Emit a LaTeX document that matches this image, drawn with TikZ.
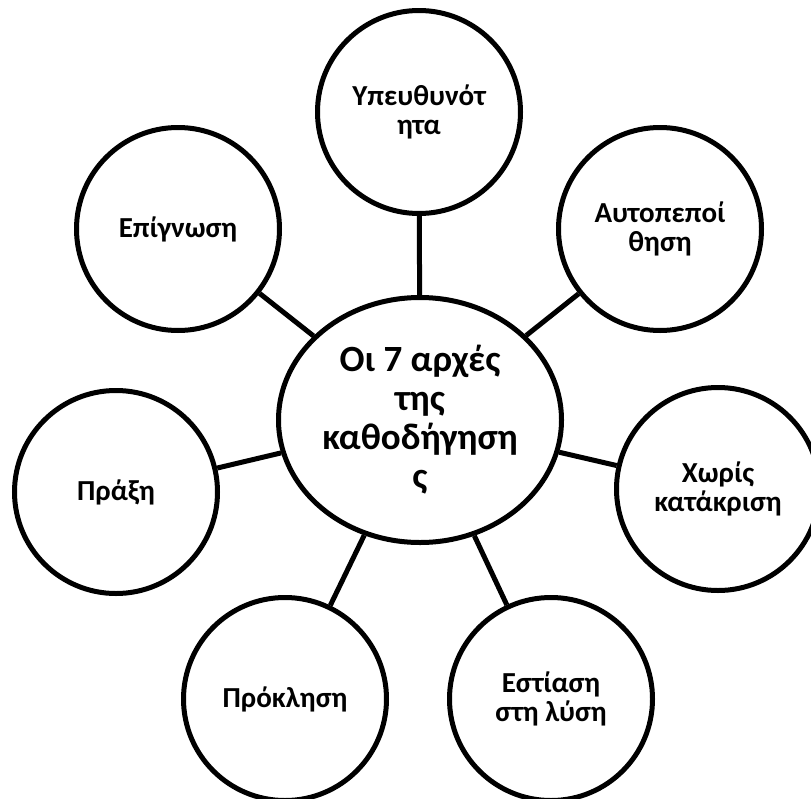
\documentclass[tikz,border=0pt]{standalone}
\usepackage{fontspec}
\setmainfont{Carlito}[BoldFont={Carlito Bold}]
\usetikzlibrary{shapes.geometric}
\begin{document}
\begin{tikzpicture}[x=1pt,y=-1pt,
  outer/.style={circle,draw,line width=5pt,minimum size=203pt,inner sep=0pt,align=center,font=\bfseries\fontsize{29}{29.5}\selectfont},
  hub/.style={ellipse,draw,line width=5pt,minimum width=283pt,minimum height=245pt,inner sep=0pt,align=center,font=\bfseries\fontsize{37}{39}\selectfont},
  link/.style={line width=5pt}]
\useasboundingbox (0,0) rectangle (811,798);
\node[hub] (c) at (420,420) {Οι 7 αρχές\\της\\καθοδήγηση\\ς};
\node[outer] (t) at (419,112) {Υπευθυνότ\\ητα};
\node[outer] (tl) at (178,229) {Επίγνωση};
\node[outer] (tr) at (660,229) {Αυτοπεποί\\θηση};
\node[outer] (l) at (116,492) {Πράξη};
\node[outer] (r) at (718,489) {Χωρίς\\κατάκριση};
\node[outer] (bl) at (285,699) {Πρόκληση};
\node[outer] (br) at (551,699) {Εστίαση\\στη λύση};
\foreach \n in {t,tl,tr,l,r,bl,br} \draw[link] (c) -- (\n);
\end{tikzpicture}
\end{document}
